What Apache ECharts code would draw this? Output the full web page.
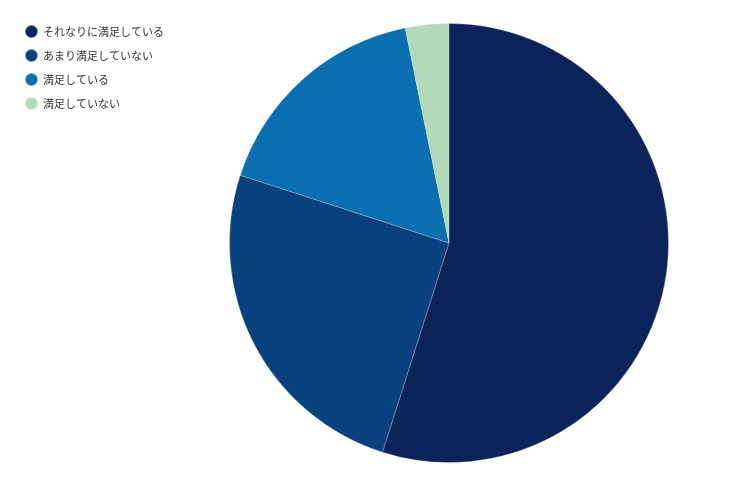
<!DOCTYPE html>
<html><head><meta charset="utf-8">
<script src="https://cdn.jsdelivr.net/npm/echarts@6/dist/echarts.min.js"></script>
<style>html,body{margin:0;padding:0;background:#fff}#c{width:731px;height:488px}</style>
</head><body><div id="c"></div>
<script>
const categories = ['それなりに満足している','あまり満足していない','満足している','満足していない'];
const values = [54.9, 25.1, 16.8, 3.2];
const colors = ['#0a2358','#08427e','#0a6eb0','#b2d9b8'];
const chart = echarts.init(document.getElementById('c'));
chart.setOption({
  animation:false,
  color: colors,
  legend:{
    orient:'vertical', left:19, top:19,
    icon:'circle', itemWidth:13, itemHeight:13, itemGap:9,
    textStyle:{fontFamily:'Noto Sans CJK JP', fontSize:11, color:'#333'},
    data: categories
  },
  series:[{
    type:'pie', center:[449,243], radius:219.5, startAngle:90, clockwise:true,
    label:{show:false}, labelLine:{show:false},
    itemStyle:{borderColor:'rgba(255,255,255,0.4)', borderWidth:0.5},
    data: categories.map((n,i)=>({name:n, value:values[i]}))
  }]
});
</script></body></html>
